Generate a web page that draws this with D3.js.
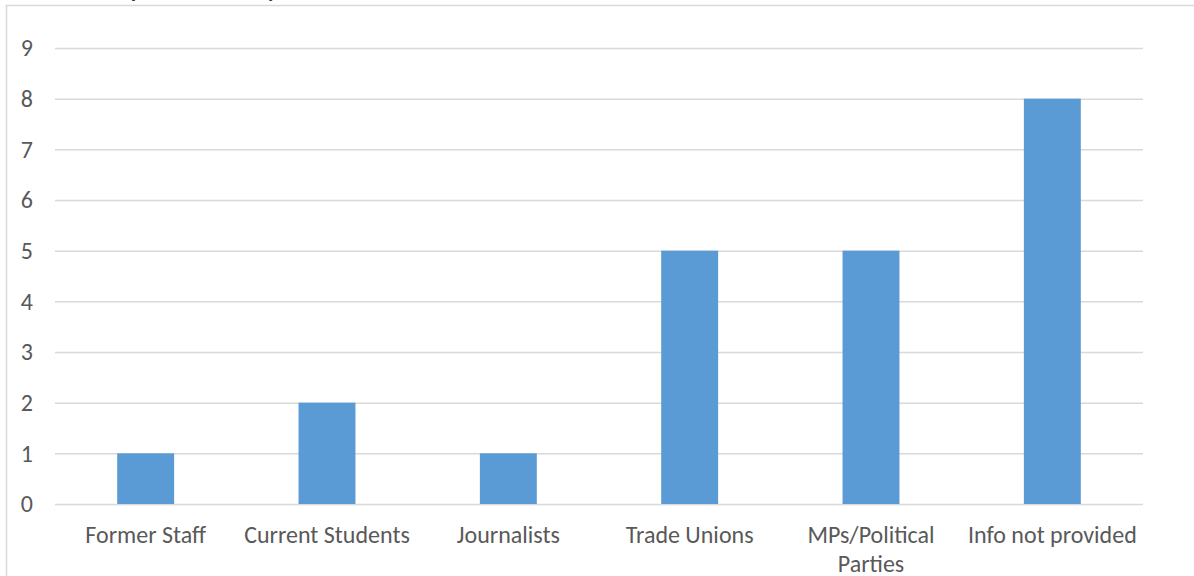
<!DOCTYPE html>
<html>
<head>
<meta charset="utf-8">
<script src="https://cdn.jsdelivr.net/npm/d3@7"></script>
<style>
  html, body { margin: 0; padding: 0; background: #ffffff; overflow: hidden; }
  svg { display: block; }
</style>
</head>
<body>
<svg id="chart" width="1194" height="576"></svg>
<script>
// Requests grouped by who made them
const categories = ["Former Staff", "Current Students", "Journalists", "Trade Unions", "MPs/Political Parties", "Info not provided"];
const counts = [1, 2, 1, 5, 5, 8];
const yTicks = [0, 1, 2, 3, 4, 5, 6, 7, 8, 9];
const titleText = "Total Complaints Made by Sector";

const W = 1194, H = 576;
const plot = { left: 55, right: 1143, top: 48, bottom: 504 };
const font = "Carlito, Calibri, Lato, 'Liberation Sans', sans-serif";
const labelSize = 24;

const svg = d3.select("#chart");

// Chart title sits above the frame; only its lowest strokes fall inside the view
svg.append("text")
  .attr("x", 40)
  .attr("y", -3)
  .attr("font-family", font)
  .attr("font-weight", "bold")
  .attr("font-size", 22)
  .attr("fill", "#1f3864")
  .text(titleText);

// Chart frame
svg.append("rect")
  .attr("x", 6.5)
  .attr("y", 5.5)
  .attr("width", W + 20)
  .attr("height", H + 20)
  .attr("fill", "none")
  .attr("stroke", "#d9d9d9")
  .attr("stroke-width", 1.5);

const x = d3.scaleBand()
  .domain(categories)
  .range([plot.left, plot.right])
  .paddingInner(0.686)
  .paddingOuter(0.343);

const y = d3.scaleLinear()
  .domain([0, 9])
  .range([plot.bottom, plot.top]);

// Horizontal gridlines with value labels
const yAxis = d3.axisLeft(y)
  .tickValues(yTicks)
  .tickSize(-(plot.right - plot.left))
  .tickPadding(22)
  .tickFormat(d3.format("d"));

const gy = svg.append("g")
  .attr("transform", `translate(${plot.left},0)`)
  .call(yAxis);
gy.select(".domain").remove();
gy.selectAll(".tick line")
  .attr("stroke", "#d9d9d9")
  .attr("stroke-width", 1.5);
gy.selectAll(".tick text")
  .attr("font-family", font)
  .attr("font-size", labelSize)
  .attr("fill", "#595959");

// Bars
svg.append("g")
  .selectAll("rect")
  .data(categories.map((c, i) => ({ c, v: counts[i] })))
  .join("rect")
  .attr("x", d => x(d.c))
  .attr("y", d => y(d.v))
  .attr("width", x.bandwidth())
  .attr("height", d => y(0) - y(d.v))
  .attr("fill", "#5b9bd5");

// Category labels, wrapped when wider than the category slot
const xAxis = d3.axisBottom(x).tickSize(0).tickPadding(0);
const gx = svg.append("g")
  .attr("transform", `translate(0,${plot.bottom})`)
  .call(xAxis);
gx.select(".domain").remove();
gx.selectAll(".tick text")
  .attr("font-family", font)
  .attr("font-size", labelSize)
  .attr("fill", "#595959")
  .attr("dy", null)
  .attr("y", 39)
  .each(function(d) {
    const t = d3.select(this);
    const slot = x.step() - 6;
    t.text(d);
    if (this.getComputedTextLength() <= slot) return;
    const words = d.split(" ");
    t.text(null);
    let line = [];
    let tspan = t.append("tspan").attr("x", 0).attr("y", 39);
    let lineNo = 0;
    words.forEach(w => {
      line.push(w);
      tspan.text(line.join(" "));
      if (tspan.node().getComputedTextLength() > slot && line.length > 1) {
        line.pop();
        tspan.text(line.join(" "));
        line = [w];
        lineNo += 1;
        tspan = t.append("tspan").attr("x", 0).attr("y", 39 + lineNo * 29).text(w);
      }
    });
  });
</script>
</body>
</html>
